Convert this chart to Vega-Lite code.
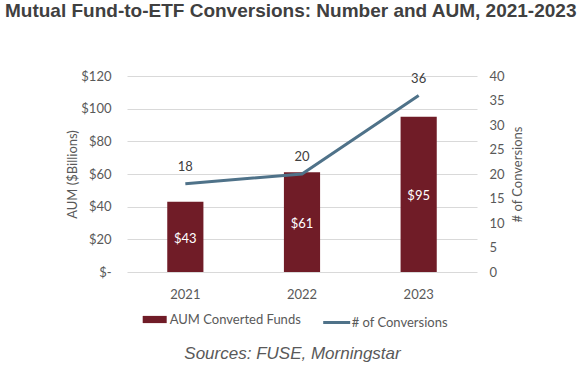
{
  "$schema": "https://vega.github.io/schema/vega-lite/v6.json",
  "width": 350,
  "height": 196,
  "autosize": {"type": "none"},
  "padding": {"left": 127, "top": 76, "right": 110, "bottom": 97},
  "background": "white",
  "title": {
    "text": "Mutual Fund-to-ETF Conversions: Number and AUM, 2021-2023",
    "anchor": "start",
    "frame": "group",
    "orient": "top",
    "dx": -122,
    "offset": 49,
    "font": "Liberation Sans",
    "fontSize": 19,
    "fontWeight": "bold",
    "color": "#404040"
  },
  "data": {
    "values": [
      {"year": "2021", "aum": 43, "count": 18},
      {"year": "2022", "aum": 61, "count": 20},
      {"year": "2023", "aum": 95, "count": 36}
    ]
  },
  "config": {
    "view": {"stroke": null},
    "axis": {"labelFont": "Lato", "labelFontSize": 13, "labelColor": "#595959", "titleFont": "Lato", "titleFontSize": 13, "titleFontWeight": "normal", "titleColor": "#595959", "labelOverlap": false}
  },
  "encoding": {
    "x": {
      "field": "year",
      "type": "nominal",
      "scale": {"paddingInner": 0, "paddingOuter": 0},
      "axis": {
        "labelAngle": 0,
        "domain": false,
        "ticks": false,
        "labelPadding": 16,
        "title": "Sources: FUSE, Morningstar",
        "titleFont": "Liberation Sans",
        "titleFontStyle": "italic",
        "titleFontSize": 17,
        "titleColor": "#595959",
        "titleX": 165,
        "titleY": 86,
        "titleAlign": "center",
        "titleBaseline": "alphabetic"
      }
    }
  },
  "layer": [
    {
      "layer": [
        {
          "mark": {"type": "bar", "width": {"band": 0.31}},
          "encoding": {
            "y": {
              "field": "aum",
              "type": "quantitative",
              "scale": {"domain": [0, 120], "nice": false},
              "axis": {
                "orient": "left",
                "values": [0, 20, 40, 60, 80, 100, 120],
                "tickCount": 7,
                "labelOverlap": false,
                "labelExpr": "datum.value == 0 ? '$-' : '$' + datum.value",
                "domain": false,
                "ticks": false,
                "labelPadding": 16,
                "gridColor": "#d9d9d9",
                "title": "AUM ($Billions)",
                "titleAngle": -90,
                "titleX": -55,
                "titleY": 98,
                "titleAlign": "center",
                "titleBaseline": "middle"
              }
            },
            "fill": {
              "datum": "AUM Converted Funds",
              "type": "nominal",
              "scale": {"range": ["#701c27"]},
              "legend": {
                "title": null,
                "orient": "none",
                "legendX": 15.7,
                "legendY": 231.5,
                "padding": 0,
                "symbolType": "M-1,-0.3H1V0.3H-1Z",
                "symbolSize": 576,
                "symbolStrokeWidth": 0,
                "labelOffset": 3,
                "labelFont": "Lato",
                "labelFontSize": 13,
                "labelColor": "#595959"
              }
            }
          }
        },
        {
          "transform": [{"calculate": "datum.aum / 2", "as": "mid"}],
          "mark": {"type": "text", "color": "white", "font": "Lato", "fontSize": 13, "baseline": "middle", "dy": 2},
          "encoding": {
            "y": {
              "field": "mid",
              "type": "quantitative",
              "axis": {
                "orient": "left",
                "values": [0, 20, 40, 60, 80, 100, 120],
                "tickCount": 7,
                "labelOverlap": false,
                "labelExpr": "datum.value == 0 ? '$-' : '$' + datum.value",
                "domain": false,
                "ticks": false,
                "labelPadding": 16,
                "gridColor": "#d9d9d9",
                "title": "AUM ($Billions)",
                "titleAngle": -90,
                "titleX": -55,
                "titleY": 98,
                "titleAlign": "center",
                "titleBaseline": "middle"
              }
            },
            "text": {"field": "aum", "type": "quantitative", "format": "$.0f"}
          }
        }
      ]
    },
    {
      "layer": [
        {
          "mark": {"type": "line", "strokeWidth": 3},
          "encoding": {
            "y": {
              "field": "count",
              "type": "quantitative",
              "scale": {"domain": [0, 40], "nice": false},
              "axis": {
                "orient": "right",
                "values": [0, 5, 10, 15, 20, 25, 30, 35, 40],
                "tickCount": 9,
                "labelOverlap": false,
                "domain": false,
                "ticks": false,
                "grid": false,
                "labelPadding": 12,
                "title": "# of Conversions",
                "titleAngle": -90,
                "titleX": 40,
                "titleY": 98,
                "titleAlign": "center",
                "titleBaseline": "middle"
              }
            },
            "stroke": {
              "datum": "# of Conversions",
              "type": "nominal",
              "scale": {"range": ["#4f7289"]},
              "legend": {
                "title": null,
                "orient": "none",
                "legendX": 194.7,
                "legendY": 231.5,
                "padding": 0,
                "symbolType": "stroke",
                "symbolSize": 729,
                "symbolStrokeWidth": 3,
                "labelOffset": 0,
                "labelFont": "Lato",
                "labelFontSize": 13,
                "labelColor": "#595959"
              }
            }
          }
        },
        {
          "mark": {"type": "text", "color": "#404040", "font": "Lato", "fontSize": 13, "baseline": "middle", "dy": -17},
          "encoding": {
            "y": {
              "field": "count",
              "type": "quantitative",
              "axis": {
                "orient": "right",
                "values": [0, 5, 10, 15, 20, 25, 30, 35, 40],
                "tickCount": 9,
                "labelOverlap": false,
                "domain": false,
                "ticks": false,
                "grid": false,
                "labelPadding": 12,
                "title": "# of Conversions",
                "titleAngle": -90,
                "titleX": 40,
                "titleY": 98,
                "titleAlign": "center",
                "titleBaseline": "middle"
              }
            },
            "text": {"field": "count", "type": "quantitative"}
          }
        }
      ]
    }
  ],
  "resolve": {"scale": {"y": "independent"}}
}
